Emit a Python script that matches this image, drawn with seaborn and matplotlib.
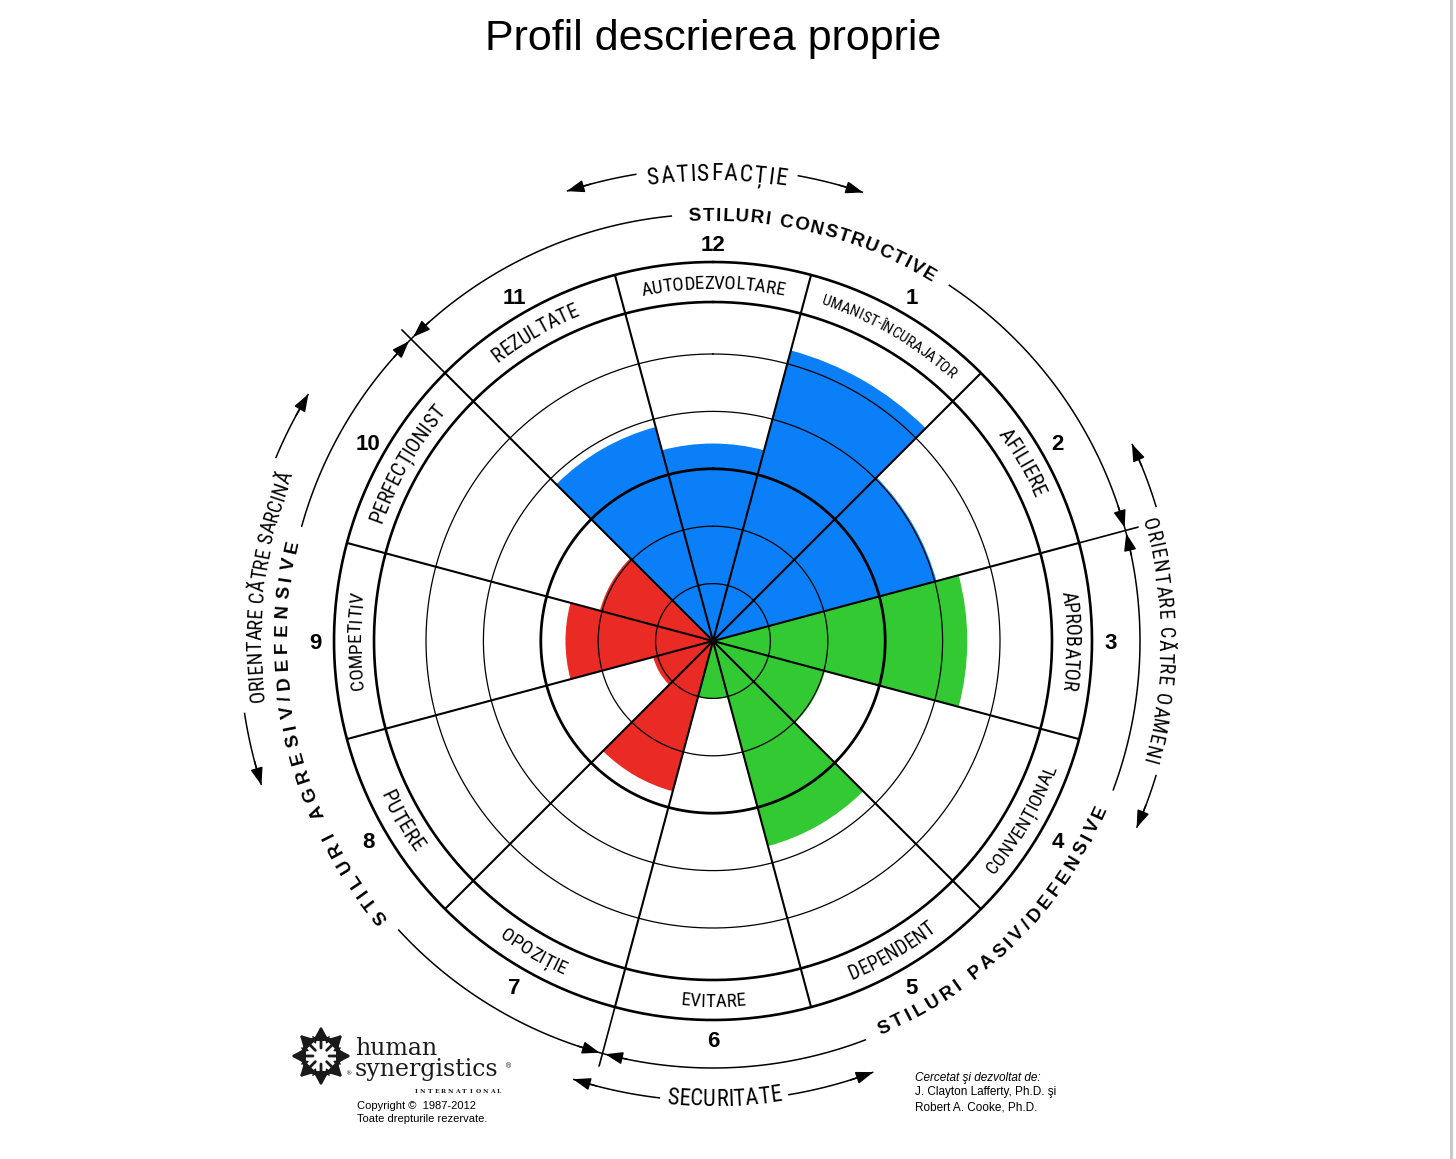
import numpy as np
import pandas as pd
import matplotlib
matplotlib.use("Agg")
import matplotlib.pyplot as plt
import seaborn as sns
from matplotlib import font_manager as fm, ft2font
from matplotlib.font_manager import FontProperties

# ------------------------------------------------------------------ data
title = "Profil descrierea proprie"
sector_numbers = [12, 1, 2, 3, 4, 5, 6, 7, 8, 9, 10, 11]
sector_labels = ["AUTODEZVOLTARE", "UMANIST-ÎNCURAJATOR", "AFILIERE", "APROBATOR",
                 "CONVENȚIONAL", "DEPENDENT", "EVITARE", "OPOZIȚIE",
                 "PUTERE", "COMPETITIV", "PERFECȚIONIST", "REZULTATE"]
sector_scores = [3.44, 5.24, 4.03, 4.43, 2.02, 3.70, 1.01, 2.71, 1.08, 2.57, 2.04, 3.86]
sector_groups = ["constructive", "constructive", "constructive", "passive",
                 "passive", "passive", "passive", "aggressive",
                 "aggressive", "aggressive", "aggressive", "constructive"]
group_colors = {"constructive": "#0A7FF8", "passive": "#33C933", "aggressive": "#EA2B25"}
group_titles = {"constructive": "STILURI CONSTRUCTIVE",
                "passive": "STILURI PASIV/DEFENSIVE",
                "aggressive": "STILURI AGRESIV/DEFENSIVE"}
ring_levels = [1, 2, 3, 4, 5]
outer_labels = {"top": "SATISFACȚIE", "right": "ORIENTARE CĂTRE OAMENI",
                "bottom": "SECURITATE", "left": "ORIENTARE CĂTRE SARCINĂ"}
logo_words = ["human", "synergistics", "INTERNATIONAL"]
copyright_lines = ["Copyright ©  1987-2012", "Toate drepturile rezervate."]
author_lines = ["Cercetat şi dezvoltat de:", "J. Clayton Lafferty, Ph.D. şi", "Robert A. Cooke, Ph.D."]

# ------------------------------------------------------------------ layout
W, H, DPI = 1456, 1159, 100
CX, CY = 713, 641          # chart centre (pixels from top-left)
AXR = 500                  # polar axes radius in pixels
U = 57.4                   # pixels per score unit (ring spacing)
R_BAND_IN, R_BAND_OUT = 339, 379
R_LABEL, R_NUM, R_GROUP = 359, 398, 427

sns.set_theme(style="white")
plt.rcParams["font.family"] = ["Liberation Sans", "DejaVu Sans"]
NOHINT = ft2font.LoadFlags.NO_HINTING if hasattr(ft2font, "LoadFlags") else ft2font.LOAD_NO_HINTING


def find_narrow(target_weight=400):
    prefs = ["Liberation Sans Narrow", "Arial Narrow", "Roboto Condensed",
             "Noto Sans", "Open Sans", "DejaVu Sans"]
    best = None
    for f in fm.fontManager.ttflist:
        cond = ("Narrow" in f.name or "Condensed" in f.name or
                str(f.stretch) in ("condensed", "semi-condensed", "extra-condensed", "75", "87"))
        if not cond or f.style != "normal":
            continue
        try:
            w = int(f.weight)
        except (TypeError, ValueError):
            w = 700 if "bold" in str(f.weight) else 400
        if w > 600 or w < 300:
            continue
        rank = next((i for i, p in enumerate(prefs) if f.name.startswith(p)), len(prefs))
        key = (rank, abs(w - target_weight))
        if best is None or key < best[0]:
            best = (key, f)
    return best[1] if best else None


_nf = find_narrow(400)


def narrow_fp(size):
    if _nf is not None:
        return FontProperties(fname=_nf.fname, size=size)
    return FontProperties(family=["Liberation Sans", "DejaVu Sans"], size=size * 0.85)


fig = plt.figure(figsize=(W / DPI, H / DPI), dpi=DPI)
fig.patch.set_facecolor("white")

# overlay axes in pixel coordinates for free-standing texts / logo
ax2 = fig.add_axes([0, 0, 1, 1])
ax2.set_xlim(0, W)
ax2.set_ylim(H, 0)
ax2.set_axis_off()

ax = fig.add_axes([(CX - AXR) / W, (H - CY - AXR) / H, 2 * AXR / W, 2 * AXR / H],
                  projection="polar")
ax.set_theta_zero_location("N")
ax.set_theta_direction(-1)

df = pd.DataFrame({"theta": np.deg2rad(np.arange(len(sector_scores)) * 30.0),
                   "score": sector_scores, "group": sector_groups})
sns.barplot(data=df, x="theta", y="score", hue="group", palette=group_colors,
            native_scale=True, width=1.0, dodge=False, errorbar=None, legend=False,
            saturation=1, linewidth=0, ax=ax, zorder=1)
ax.set_xlim(0, 2 * np.pi)
ax.set_ylim(0, AXR / U)
ax.set_axis_off()


def rad(d):
    return np.deg2rad(d)


def ru(px):
    return px / U


# rings
tt = np.linspace(0, 2 * np.pi, 900)
for lvl in ring_levels:
    ax.plot(tt, np.full_like(tt, lvl), color="black", lw=2.0 if lvl == 3 else 0.9, zorder=3)
for rp in (R_BAND_IN, R_BAND_OUT):
    ax.plot(tt, np.full_like(tt, ru(rp)), color="black", lw=1.9, zorder=3)

# radial sector boundaries
for k in range(12):
    b = k * 30 + 15
    ax.plot([rad(b), rad(b)], [0, ru(R_BAND_OUT)], color="black", lw=1.5, zorder=3)
# group boundary ticks
for b in (75, 195, 315):
    ax.plot([rad(b), rad(b)], [ru(R_BAND_OUT), ru(440)], color="black", lw=1.2, zorder=3)


def advances(text, fp):
    font = ft2font.FT2Font(fm.findfont(fp))
    font.set_size(fp.get_size_in_points(), DPI)
    return [font.load_char(ord(c), flags=NOHINT).linearHoriAdvance / 65536.0 for c in text]


def curved_text(text, center, r_c, fp, cw=True, span=None, fit_size=False,
                max_size=None, color="black"):
    adv = advances(text, fp)
    nat = sum(adv)
    spacing = 0.0
    if span is not None:
        if nat > span or fit_size:
            f = span / nat
            if max_size is not None:
                f = min(f, max_size / fp.get_size_in_points())
            fp = fp.copy()
            fp.set_size(fp.get_size_in_points() * f)
            adv = [a * f for a in adv]
        elif len(text) > 1:
            spacing = (span - nat) / (len(text) - 1)
    total = sum(adv) + spacing * (len(text) - 1)
    cap = fp.get_size_in_points() * DPI / 72 * 0.71
    r_base = r_c - cap / 2 if cw else r_c + cap / 2
    sgn = 1 if cw else -1
    s = -total / 2
    for ch, a in zip(text, adv):
        sc = s + a / 2
        phi = center + sgn * np.degrees(sc / r_c)
        rot = -phi if cw else 180 - phi
        if ch != " ":
            ax.text(rad(phi), ru(r_base), ch, fontproperties=fp, rotation=rot,
                    rotation_mode="anchor", ha="center", va="baseline",
                    color=color, zorder=5)
        s += a + spacing


def arc(r_px, a0, a1, lw=1.1):
    th = rad(np.linspace(a0, a1, 120))
    ax.plot(th, np.full_like(th, ru(r_px)), color="black", lw=lw, zorder=4,
            solid_capstyle="butt")


def arrowhead(r_px, tip, direction):
    back = tip - direction * 3.0
    ax.annotate("", xy=(rad(tip), ru(r_px)), xytext=(rad(back), ru(r_px)),
                arrowprops=dict(arrowstyle="-|>,head_length=0.7,head_width=0.25",
                                color="black", lw=1.1, shrinkA=0, shrinkB=0,
                                mutation_scale=15), zorder=5)


# sector labels in the band
label_spans = [145, 153, 75, 100, 123, 97, 65, 74, 67, 98, 133, 97]
for i, lab in enumerate(sector_labels):
    phi = i * 30
    cw = i not in (4, 5, 6, 7, 8)
    fp = narrow_fp(10.5 if i == 1 else 13.5)
    curved_text(lab, phi, R_LABEL, fp, cw=cw, span=label_spans[i], fit_size=True,
                max_size=11.5 if i == 1 else 15.5)

# sector numbers (upright, visually centred on the number radius)
for i, n in enumerate(sector_numbers):
    ax.annotate(str(n), xy=(rad(i * 30), ru(R_NUM)), xytext=(0, -5.7),
                textcoords="offset points", ha="center", va="baseline",
                fontsize=16, fontweight="bold", color="black", zorder=5)

# group titles + arrowed arcs
fpb = FontProperties(family=["Liberation Sans", "DejaVu Sans"], weight="bold", size=13.5)
curved_text(group_titles["constructive"], 14.0, R_GROUP, fpb, cw=True, span=258)
curved_text(group_titles["passive"], 135.0, 421, fpb, cw=False, span=323)
curved_text(group_titles["aggressive"], 256.5, 433, fpb, cw=True, span=408)
arc(R_GROUP, -45, -5.5); arc(R_GROUP, 33.5, 75)
arc(R_GROUP, 75, 110.5); arc(R_GROUP, 159, 195)
arc(R_GROUP, 195, 227.5); arc(R_GROUP, 285.5, 315)
for tip, d in ((315.4, -1), (74.6, 1), (75.4, -1), (194.6, 1), (195.4, -1), (314.6, 1)):
    arrowhead(R_GROUP, tip, d)

# outer orientation labels
fpo = narrow_fp(17)
fpo2 = narrow_fp(14.5)
curved_text(outer_labels["top"], 0.5, 469, fpo, cw=True, span=140)
arc(473, -18, -9.3); arc(473, 10.3, 18.5)
arrowhead(473, -18, -1); arrowhead(473, 18.5, 1)

curved_text(outer_labels["bottom"], 178.6, 457, fpo, cw=False, span=114)
arc(460, 159.6, 170.6); arc(460, 186.6, 197.7)
arrowhead(460, 159.6, -1); arrowhead(460, 197.7, 1)

curved_text(outer_labels["right"], 90.0, 453, fpo2, cw=True, span=249)
arc(463, 64.8, 73.2); arc(463, 106.8, 113.8)
arrowhead(463, 64.8, -1); arrowhead(463, 113.8, 1)

curved_text(outer_labels["left"], 277.0, 459, fpo2, cw=True, span=235)
arc(474, 252.3, 261.3); arc(474, 292.7, 301.4)
arrowhead(474, 252.3, -1); arrowhead(474, 301.4, 1)

# ------------------------------------------------------------------ title, logo, footers
ax2.text(CX, 50, title, ha="center", va="baseline", fontsize=31, color="black")
ax2.plot([1451, 1451], [0, H], color="#c8c8c8", lw=2.2)

sx, sy = 321, 1056
for k in range(8):
    a = np.deg2rad(k * 45)
    ax2.annotate("", xy=(sx + 30 * np.cos(a), sy - 30 * np.sin(a)),
                 xytext=(sx + 8 * np.cos(a), sy - 8 * np.sin(a)),
                 arrowprops=dict(arrowstyle="-|>,head_length=0.55,head_width=0.3",
                                 color="#1a1a1a", lw=2.0, shrinkA=0, shrinkB=0,
                                 mutation_scale=14))
    b = np.deg2rad(k * 45 + 22.5)
    ax2.annotate("", xy=(sx + 13 * np.cos(b), sy - 13 * np.sin(b)),
                 xytext=(sx + 21 * np.cos(b), sy - 21 * np.sin(b)),
                 arrowprops=dict(arrowstyle="-|>,head_length=0.35,head_width=0.2",
                                 color="#1a1a1a", lw=1.0, shrinkA=0, shrinkB=0,
                                 mutation_scale=10))
serif = ["DejaVu Serif", "Liberation Serif"]
ax2.text(355, 1055, logo_words[0], family=serif, fontsize=17, va="baseline", color="#1a1a1a")
ax2.text(355, 1076, logo_words[1], family=serif, fontsize=17, va="baseline", color="#1a1a1a")
ax2.text(505, 1068, "®", family=serif, fontsize=5, va="baseline", color="#1a1a1a")
ax2.text(345, 1075, "®", family=serif, fontsize=4.5, va="baseline", color="#1a1a1a")
for ch, x in zip(logo_words[2], np.linspace(416, 499, len(logo_words[2]))):
    ax2.text(x, 1093, ch, family=serif, fontsize=4.3, fontweight="bold",
             ha="center", va="baseline", color="#1a1a1a")
ax2.text(357, 1109, copyright_lines[0], fontsize=8, va="baseline", color="black")
ax2.text(357, 1122, copyright_lines[1], fontsize=8, va="baseline", color="black")
ax2.text(915, 1081, author_lines[0], fontsize=8.5, style="italic", va="baseline", color="black")
ax2.text(915, 1095, author_lines[1], fontsize=8.5, va="baseline", color="black")
ax2.text(915, 1110, author_lines[2], fontsize=8.5, va="baseline", color="black")

fig.savefig("out.png", dpi=DPI, facecolor="white")
